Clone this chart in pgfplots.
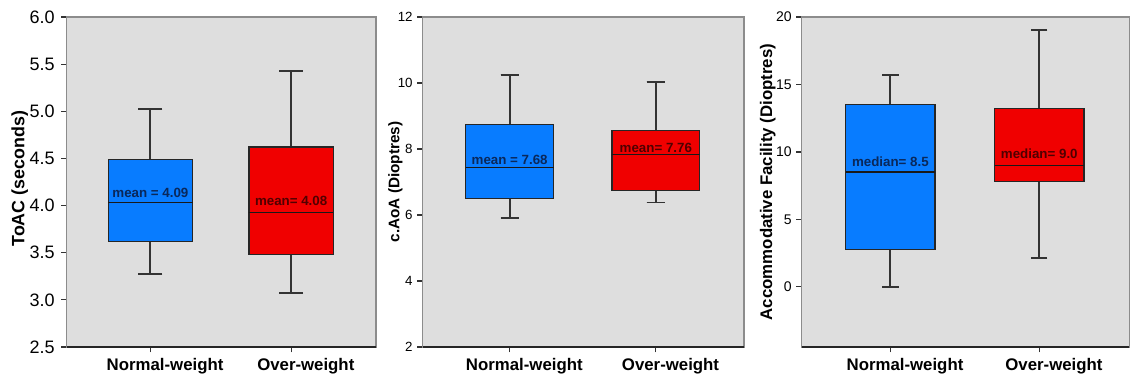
\documentclass[border=0pt]{standalone}
\usepackage{pgfplots}
\pgfplotsset{compat=1.18}
\usepgfplotslibrary{statistics}
\usepackage{fontspec}
\setmainfont{Liberation Sans}

\definecolor{panelbg}{RGB}{222,222,222}
\definecolor{boxblue}{RGB}{8,124,255}
\definecolor{boxred}{RGB}{240,0,0}
\definecolor{framegray}{RGB}{140,140,140}
\definecolor{bluetext}{RGB}{10,40,90}
\definecolor{redtext}{RGB}{80,0,0}

\tikzset{meanlabel/.style={font=\fontsize{10}{12}\selectfont\bfseries, anchor=center}}

\pgfplotsset{
  panel/.style={
    scale only axis,
    height=247.5pt,
    anchor=south west,
    axis background/.style={fill=panelbg},
    axis line style={framegray, line width=0.8pt},
    xmin=0.405, xmax=2.603,
    xtick={1,2},
    xticklabels={Normal-weight, Over-weight},
    xticklabel style={font=\fontsize{12.6}{14}\selectfont\bfseries, xshift=11pt, yshift=-1pt},
    tick align=outside,
    tick pos=left,
    major tick length=4pt,
    tick style={black!80, line width=0.9pt},
    /pgf/number format/assume math mode=true,
    ylabel style={font=\bfseries, anchor=center},
    boxplot/draw direction=y,
    boxplot/box extend=0.6,
    boxplot/every whisker/.style={black!80, line width=1.4pt},
    boxplot/every median/.style={black!90, line width=1pt},
    boxplot/every box/.style={draw=black!85, line width=1pt},
  },
}

\begin{document}
\begin{tikzpicture}
\useasboundingbox (0,0) rectangle (847.5pt,283.5pt);

% Time of accommodative change
\begin{axis}[panel,
  at={(50pt,23.25pt)}, width=232pt,
  ymin=2.5, ymax=6,
  ytick={2.5,3,3.5,4,4.5,5,5.5,6},
  yticklabel style={font=\fontsize{13.5}{15}\selectfont, xshift=-1.5pt, /pgf/number format/.cd, fixed, fixed zerofill, precision=1},
  ylabel={ToAC (seconds)},
  ylabel style={font=\fontsize{13.4}{15}\selectfont\bfseries, at={(axis description cs:-0.152,0.51)}},
  boxplot/whisker extend=0.17,
]
\addplot[fill=boxblue, boxplot prepared={draw position=1,
  lower whisker=3.27, lower quartile=3.62, median=4.035,
  upper quartile=4.49, upper whisker=5.02}] coordinates {};
\addplot[fill=boxred, boxplot prepared={draw position=2,
  lower whisker=3.07, lower quartile=3.48, median=3.93,
  upper quartile=4.62, upper whisker=5.43}] coordinates {};
\node[meanlabel, text=bluetext] at (axis cs:1,4.137) {mean = 4.09};
\node[meanlabel, text=redtext] at (axis cs:2,4.05) {mean= 4.08};
\draw[black!85, line width=0.8pt] (rel axis cs:0,0) -- (rel axis cs:1,0);
\end{axis}

% Closest amplitude of accommodation
\begin{axis}[panel,
  at={(317pt,23.25pt)}, width=241pt,
  ymin=2, ymax=12,
  ytick={2,4,6,8,10,12},
  yticklabel style={font=\fontsize{10}{12}\selectfont},
  ylabel={c.AoA (Dioptres)},
  ylabel style={font=\fontsize{11.5}{13}\selectfont\bfseries, at={(axis description cs:-0.085,0.5)}},
  boxplot/whisker extend=0.125,
]
\addplot[fill=boxblue, boxplot prepared={draw position=1,
  lower whisker=5.90, lower quartile=6.51, median=7.43,
  upper quartile=8.75, upper whisker=10.25}] coordinates {};
\addplot[fill=boxred, boxplot prepared={draw position=2,
  lower whisker=6.38, lower quartile=6.74, median=7.83,
  upper quartile=8.57, upper whisker=10.04}] coordinates {};
\node[meanlabel, text=bluetext] at (axis cs:1,7.67) {mean = 7.68};
\node[meanlabel, text=redtext] at (axis cs:2,8.04) {mean= 7.76};
\draw[black!85, line width=0.8pt] (rel axis cs:0,0) -- (rel axis cs:1,0);
\end{axis}

% Accommodative facility
\begin{axis}[panel,
  at={(601.3pt,23.25pt)}, width=245.5pt,
  ymin=-4.46, ymax=20,
  ytick={0,5,10,15,20},
  yticklabel style={font=\fontsize{10.5}{12}\selectfont},
  ylabel={Accommodative Facility (Dioptres)},
  ylabel style={font=\fontsize{12.6}{14}\selectfont\bfseries, at={(axis description cs:-0.104,0.5)}},
  boxplot/whisker extend=0.11,
]
\addplot[fill=boxblue, boxplot prepared={draw position=1,
  lower whisker=0, lower quartile=2.78, median=8.5,
  upper quartile=13.5, upper whisker=15.73}] coordinates {};
\addplot[fill=boxred, boxplot prepared={draw position=2,
  lower whisker=2.11, lower quartile=7.79, median=9.0,
  upper quartile=13.24, upper whisker=19.02}] coordinates {};
\node[meanlabel, text=bluetext] at (axis cs:1,9.26) {median= 8.5};
\node[meanlabel, text=redtext] at (axis cs:2,9.87) {median= 9.0};
\draw[black!85, line width=0.8pt] (rel axis cs:0,0) -- (rel axis cs:1,0);
\end{axis}
\end{tikzpicture}
\end{document}
